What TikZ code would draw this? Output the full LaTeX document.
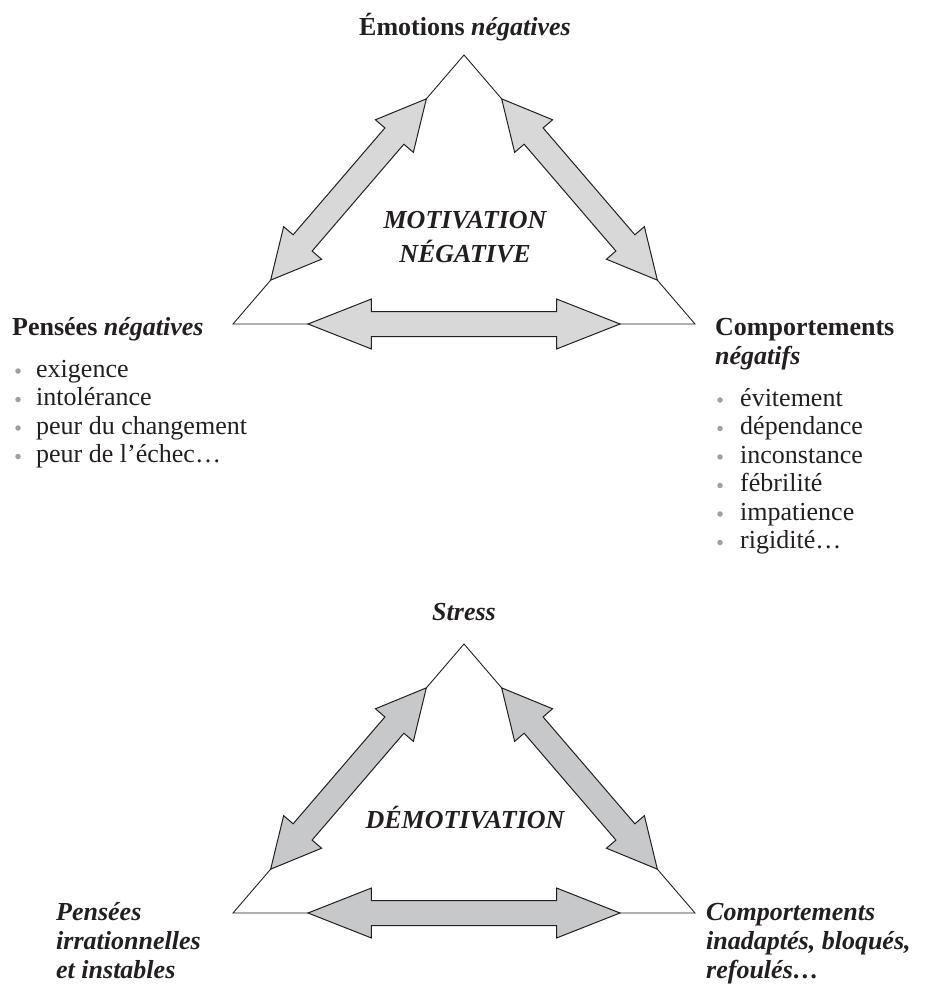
\documentclass[tikz,border=0pt]{standalone}
\usepackage{fontspec}
\setmainfont{Liberation Serif}
\usetikzlibrary{shapes.arrows}

\definecolor{ink}{RGB}{35,31,32}
\definecolor{palefill}{RGB}{216,216,217}
\definecolor{greyfill}{RGB}{199,200,201}
\definecolor{dotgrey}{RGB}{160,160,162}

\tikzset{
  triline/.style={draw=ink, line width=0.9pt},
  bigarrow/.style={double arrow, draw=ink, line width=1pt, inner xsep=0pt, inner ysep=12pt,
    double arrow head extend=12.5pt, sloped},
  sidearrow/.style={bigarrow, minimum height=239pt, double arrow tip angle=54},
  basearrow/.style={bigarrow, minimum height=312pt, double arrow tip angle=43},
  titre/.style={text=ink, inner sep=0pt, font=\fontsize{26}{28.5}\selectfont\bfseries},
  entree/.style={text=ink, inner sep=0pt, anchor=base west, font=\fontsize{26}{28.5}\selectfont},
  puce/.style={circle, fill=dotgrey, inner sep=0pt, minimum size=5.5pt}
}

\begin{document}
\begin{tikzpicture}[x=1pt, y=-1pt]
  \useasboundingbox (0,0) rectangle (929,992);

  % triangle du haut
  \coordinate (t1) at (464,55);
  \coordinate (t2) at (233,324);
  \coordinate (t3) at (695,324);
  \draw[triline] (t1) -- (t2) -- (t3) -- cycle;
  \path (t2) -- node[sidearrow, fill=palefill] (fh1) {} (t1);
  \path (t1) -- node[sidearrow, fill=palefill] (fh2) {} (t3);
  \path (t2) -- node[basearrow, fill=palefill] (fh3) {} (t3);

  \node[titre, anchor=base] (emo) at (465,36) {Émotions \textit{négatives}};
  \node[titre, anchor=base west] (pen) at (12,335) {Pensées \textit{négatives}};
  \node[titre, anchor=base west, align=left] (com) at (715,364) {Comportements\\\textit{négatifs}};
  \node[titre, anchor=base, align=center, font=\fontsize{26}{34}\selectfont\bfseries\itshape]
    (motneg) at (465,262) {MOTIVATION\\NÉGATIVE};

  \foreach \mot [count=\i] in {exigence, intolérance, peur du changement, peur de l’échec…}{
    \node[puce] (pp\i) at (18, {371+28.5*(\i-1)}) {};
    \node[entree] (pe\i) at (36, {377+28.5*(\i-1)}) {\mot};
  }
  \foreach \mot [count=\i] in {évitement, dépendance, inconstance, fébrilité, impatience, rigidité…}{
    \node[puce] (pc\i) at (720, {400+28.5*(\i-1)}) {};
    \node[entree] (ce\i) at (740, {406+28.5*(\i-1)}) {\mot};
  }

  % triangle du bas
  \coordinate (b1) at (464,644);
  \coordinate (b2) at (233,913);
  \coordinate (b3) at (695,913);
  \draw[triline] (b1) -- (b2) -- (b3) -- cycle;
  \path (b2) -- node[sidearrow, fill=greyfill] (fb1) {} (b1);
  \path (b1) -- node[sidearrow, fill=greyfill] (fb2) {} (b3);
  \path (b2) -- node[basearrow, fill=greyfill] (fb3) {} (b3);

  \node[titre, anchor=base, font=\fontsize{26}{28.5}\selectfont\bfseries\itshape] (stress) at (464,620) {Stress};
  \node[titre, anchor=base, font=\fontsize{26}{28.5}\selectfont\bfseries\itshape] (demot) at (465,828) {DÉMOTIVATION};
  \node[titre, anchor=base west, align=left, font=\fontsize{26}{29}\selectfont\bfseries\itshape]
    (irr) at (56,978) {Pensées\\irrationnelles\\et instables};
  \node[titre, anchor=base west, align=left, font=\fontsize{26}{29}\selectfont\bfseries\itshape]
    (inad) at (706,978) {Comportements\\inadaptés, bloqués,\\refoulés…};
\end{tikzpicture}
\end{document}
